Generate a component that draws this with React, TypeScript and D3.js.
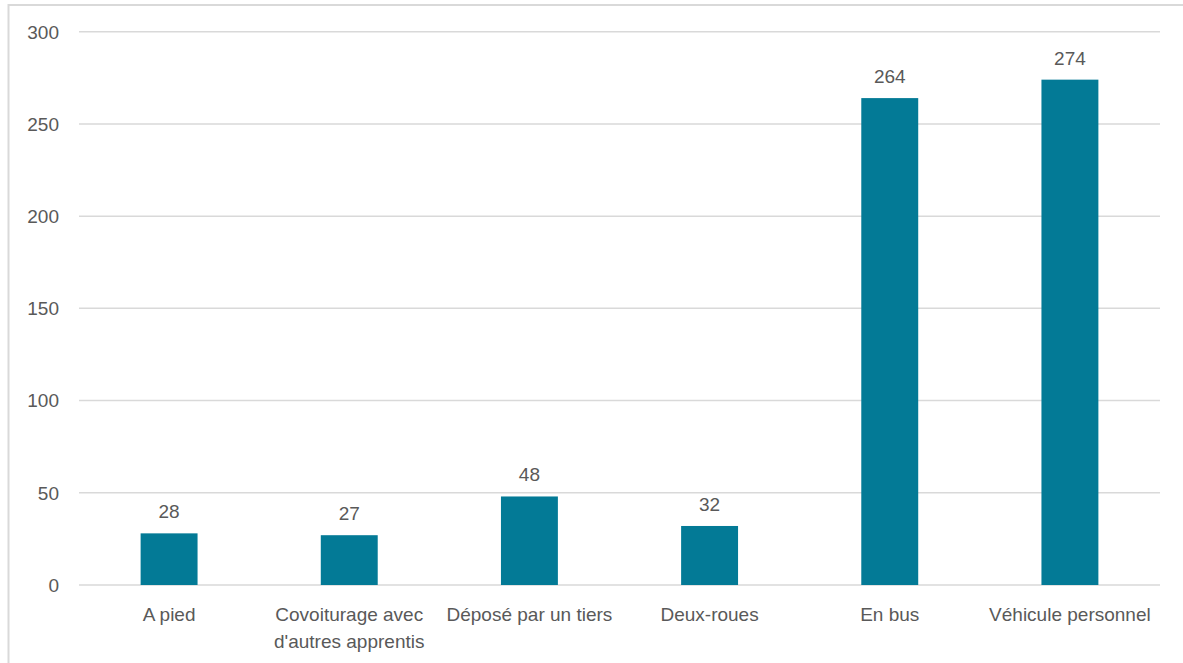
import React from "react";
import * as d3 from "d3";

const categories: string[][] = [
  ["A pied"],
  ["Covoiturage avec", "d'autres apprentis"],
  ["Déposé par un tiers"],
  ["Deux-roues"],
  ["En bus"],
  ["Véhicule personnel"],
];
const values: number[] = [28, 27, 48, 32, 264, 274];
const yTicks: number[] = [0, 50, 100, 150, 200, 250, 300];

const W = 1183;
const H = 663;
const left = 79;
const right = 1160;
const top = 31.7;
const bottom = 585;
const font = "'Liberation Sans', Arial, sans-serif";
const textColor = "#595959";
const barColor = "#037A96";

export default function App() {
  const x = d3
    .scaleBand<number>()
    .domain(values.map((_, i) => i))
    .range([left, right])
    .paddingInner(0.684)
    .paddingOuter(0.342);
  const y = d3.scaleLinear().domain([0, 300]).range([bottom, top]);

  return (
    <svg
      width={W}
      height={H}
      style={{ position: "absolute", left: 0, top: 0, background: "#fff" }}
    >
      <rect x={8.5} y={5} width={W + 20} height={H + 20} fill="#fff" stroke="#D9D9D9" strokeWidth={2} />
      {yTicks.map((t) => (
        <g key={t}>
          <line x1={left} x2={right} y1={y(t)} y2={y(t)} stroke="#D9D9D9" strokeWidth={1.5} />
          <text
            x={59}
            y={y(t) + 6.8}
            textAnchor="end"
            fontFamily={font}
            fontSize={19}
            fill={textColor}
          >
            {t}
          </text>
        </g>
      ))}
      {values.map((v, i) => {
        const bx = x(i) as number;
        const bw = x.bandwidth();
        const cx = bx + bw / 2;
        return (
          <g key={i}>
            <rect x={bx} y={y(v)} width={bw} height={y(0) - y(v)} fill={barColor} />
            <text
              x={cx}
              y={y(v) - 15}
              textAnchor="middle"
              fontFamily={font}
              fontSize={19}
              fill={textColor}
            >
              {v}
            </text>
            {categories[i].map((line, j) => (
              <text
                key={j}
                x={cx}
                y={621 + j * 27}
                textAnchor="middle"
                fontFamily={font}
                fontSize={19}
                fill={textColor}
              >
                {line}
              </text>
            ))}
          </g>
        );
      })}
    </svg>
  );
}
